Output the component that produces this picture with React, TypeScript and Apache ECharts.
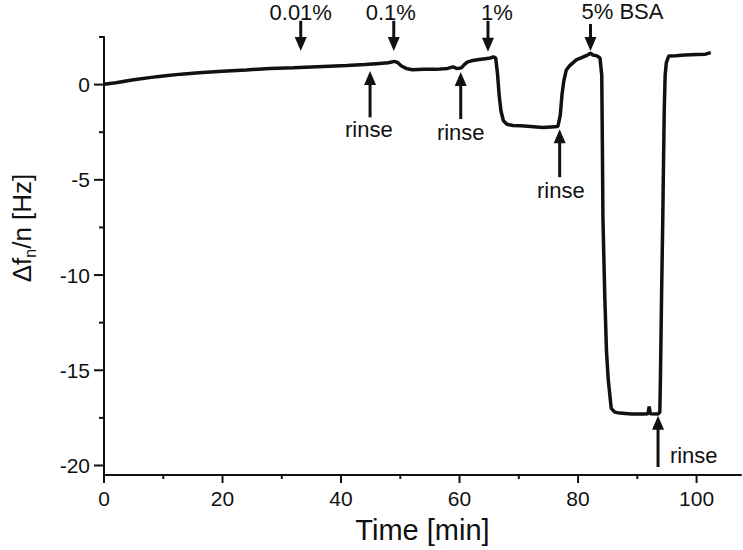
import React, { useEffect, useRef } from "react";
import * as echarts from "echarts";

// Time [min]
const timeMin = [
  0, 2, 5, 8, 10, 13, 16, 20, 24, 28, 32, 35, 38, 41, 44, 46, 48, 49, 49.6, 50.2,
  51, 52, 54, 56, 58, 58.9, 59.6, 60.3, 60.8, 61.3, 62, 63, 64, 65, 65.7, 66.1,
  66.4, 66.7, 67.0, 67.4, 68, 69, 70.3, 72, 74, 75.5, 76.6, 77.0, 77.3, 77.6, 78.0,
  78.6, 79.7, 80.5, 81.6, 82.1, 82.5, 83.2, 83.7, 84.0, 84.1, 84.2, 84.5, 84.8,
  85.1, 85.6, 86.2, 87, 89, 91, 91.8, 92.0, 92.2, 93.5, 93.8, 93.9, 94.1, 94.3,
  94.45, 94.55, 94.7, 94.9, 95.3, 96.5, 98, 100, 101.5, 102.4,
];
// Δf_n/n [Hz]
const deltaF = [
  0.02, 0.1, 0.25, 0.38, 0.45, 0.55, 0.62, 0.7, 0.77, 0.85, 0.88, 0.93, 0.97, 1.0,
  1.05, 1.1, 1.15, 1.22, 1.15, 0.98, 0.85, 0.78, 0.8, 0.8, 0.85, 0.93, 0.84, 0.88,
  1.05, 1.18, 1.25, 1.3, 1.34, 1.38, 1.45, 1.4, 0.6, -0.6, -1.4, -1.9, -2.08,
  -2.15, -2.16, -2.2, -2.25, -2.22, -2.2, -1.6, -0.5, 0.2, 0.75, 1.0, 1.3, 1.4,
  1.55, 1.65, 1.55, 1.51, 1.4, 0.5, -3, -7, -11, -14, -15.5, -17.0, -17.2,
  -17.25, -17.3, -17.3, -17.28, -16.9, -17.28, -17.3, -17.2, -15.5, -11, -7,
  -3.5, -1.3, 0.5, 1.15, 1.5, 1.52, 1.55, 1.58, 1.6, 1.68,
];

const xMajorTicks = [0, 20, 40, 60, 80, 100];
const xMinorTicks = [10, 30, 50, 70, 90];
const yMajorTicks = [0, -5, -10, -15, -20];
const yMinorTicks = [2.5, -2.5, -7.5, -12.5, -17.5];

// Annotations (data coordinates)
const arrowLabels = ["0.01%", "0.1%", "1%", "5% BSA", "rinse", "rinse", "rinse", "rinse"];
const arrowX = [33.2, 48.9, 64.8, 82.1, 44.9, 60.2, 76.9, 93.5];
const arrowTipY = [1.77, 1.77, 1.72, 1.77, 0.72, 0.66, -2.34, -17.39];
const arrowTailY = [3.35, 3.35, 3.35, 3.18, -1.72, -1.81, -4.86, -20.08];
const labelX = [33.2, 48.4, 66.3, 87.5, 44.7, 60.2, 77.1, 95.5];
const labelY = [3.8, 3.8, 3.8, 3.83, -2.34, -2.49, -5.57, -19.45];
const labelAlign = ["center", "center", "center", "center", "center", "center", "center", "left"];

const FONT = "'Liberation Sans', Arial, Helvetica, sans-serif";
const INK = "#111111";

export default function App() {
  const ref = useRef<HTMLDivElement>(null);

  useEffect(() => {
    if (!ref.current) return;
    const chart = echarts.init(ref.current, undefined, { renderer: "svg" });
    const data = timeMin.map((t, i) => [t, deltaF[i]]);
    const axisLineStyle = { color: INK, width: 2 };

    chart.setOption({
      animation: false,
      backgroundColor: "#ffffff",
      grid: { left: 104, right: 2, top: 37, bottom: 75 },
      xAxis: {
        type: "value",
        min: 0,
        max: 107.5,
        position: "bottom",
        axisLine: { show: true, onZero: false, lineStyle: axisLineStyle },
        axisTick: { show: false },
        axisLabel: {
          customValues: xMajorTicks,
          margin: 13,
          fontSize: 21,
          fontFamily: FONT,
          color: INK,
        },
        splitLine: { show: false },
        name: "Time [min]",
        nameLocation: "middle",
        nameGap: 40,
        nameTextStyle: { fontSize: 29, fontFamily: FONT, color: INK },
      },
      yAxis: {
        type: "value",
        min: -20.5,
        max: 2.5,
        position: "left",
        axisLine: { show: true, onZero: false, lineStyle: axisLineStyle },
        axisTick: { show: false },
        axisLabel: {
          customValues: yMajorTicks,
          margin: 14,
          fontSize: 21,
          fontFamily: FONT,
          color: INK,
        },
        splitLine: { show: false },
      },
      series: [
        {
          type: "line",
          data,
          showSymbol: false,
          symbol: "none",
          lineStyle: { color: INK, width: 3.5 },
          clip: false,
        },
      ],
    });

    const px = (x: number, y: number) => chart.convertToPixel({ gridIndex: 0 }, [x, y]) as number[];
    const graphics: any[] = [];

    // axis ticks (outward)
    const origin = px(0, -20.5);
    const tick = (x1: number, y1: number, x2: number, y2: number) =>
      graphics.push({
        type: "line",
        shape: { x1, y1, x2, y2 },
        style: { stroke: INK, lineWidth: 2 },
        silent: true,
      });
    xMajorTicks.forEach((v) => {
      const p = px(v, -20.5);
      tick(p[0], origin[1], p[0], origin[1] + 8);
    });
    xMinorTicks.forEach((v) => {
      const p = px(v, -20.5);
      tick(p[0], origin[1], p[0], origin[1] + 4);
    });
    yMajorTicks.forEach((v) => {
      const p = px(0, v);
      tick(origin[0], p[1], origin[0] - 10, p[1]);
    });
    yMinorTicks.forEach((v) => {
      const p = px(0, v);
      tick(origin[0], p[1], origin[0] - 5, p[1]);
    });

    arrowX.forEach((ax, i) => {
      const tip = px(ax, arrowTipY[i]);
      const tail = px(ax, arrowTailY[i]);
      const dir = tip[1] > tail[1] ? 1 : -1;
      const headLen = 14;
      const halfW = 6;
      const base = tip[1] - dir * headLen;
      graphics.push({
        type: "line",
        shape: { x1: tail[0], y1: tail[1], x2: tip[0], y2: base + dir * 2 },
        style: { stroke: INK, lineWidth: 3 },
        silent: true,
      });
      graphics.push({
        type: "polygon",
        shape: { points: [[tip[0], tip[1]], [tip[0] - halfW, base], [tip[0] + halfW, base]] },
        style: { fill: INK },
        silent: true,
      });
      const lp = px(labelX[i], labelY[i]);
      graphics.push({
        type: "text",
        x: lp[0],
        y: lp[1],
        style: {
          text: arrowLabels[i],
          fontSize: 22,
          fontFamily: FONT,
          fill: INK,
          align: labelAlign[i],
          verticalAlign: "middle",
        },
        silent: true,
      });
    });

    graphics.push({
      type: "text",
      x: 22,
      y: 228,
      rotation: Math.PI / 2,
      style: {
        text: "{a|Δf}{s|n}{a|/n [Hz]}",
        align: "center",
        verticalAlign: "middle",
        fill: INK,
        rich: {
          a: { fontSize: 26, fontFamily: FONT, fill: INK, lineHeight: 30, verticalAlign: "middle" },
          s: { fontSize: 16, fontFamily: FONT, fill: INK, lineHeight: 32, verticalAlign: "bottom" },
        },
      },
      silent: true,
    });

    chart.setOption({ graphic: graphics });

    return () => chart.dispose();
  }, []);

  return <div ref={ref} style={{ width: 743, height: 550, position: "absolute", left: 0, top: 0 }} />;
}
